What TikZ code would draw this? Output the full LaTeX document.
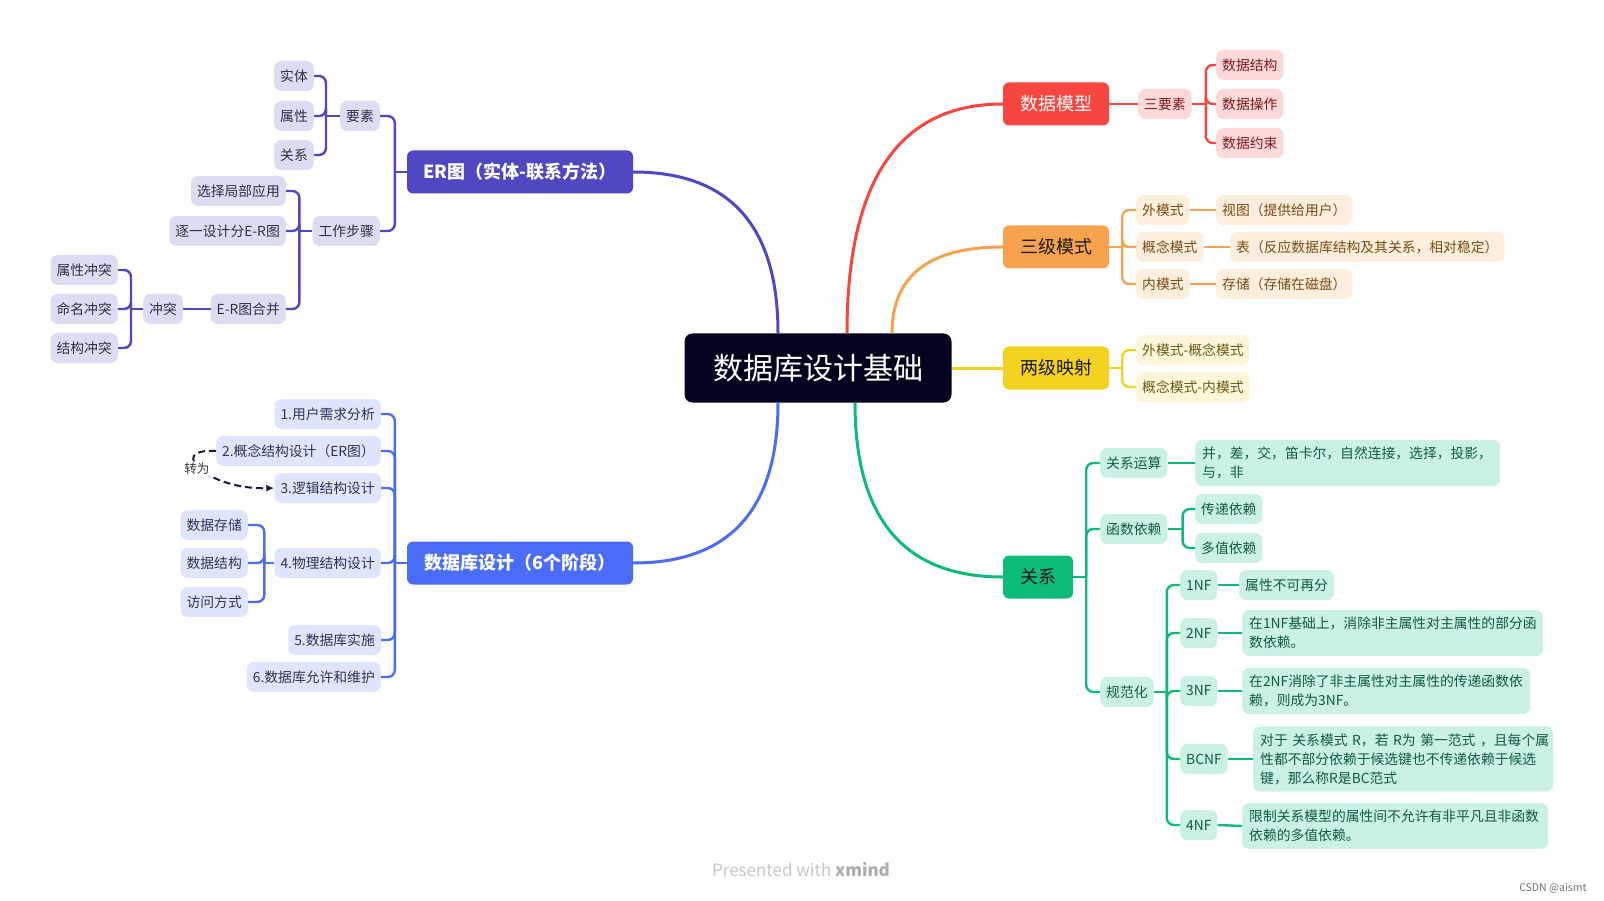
\documentclass[tikz,border=0pt]{standalone}
\usepackage{fontspec}
\setmainfont{Noto Sans CJK SC}
\usetikzlibrary{arrows.meta,calc}
\definecolor{cDark}{HTML}{03031F}
\definecolor{erLine}{HTML}{4F48C2}
\definecolor{erFill}{HTML}{DCDCF3}
\definecolor{erText}{HTML}{2E2E4F}
\definecolor{dbLine}{HTML}{4A6CF7}
\definecolor{dbFill}{HTML}{DFE5FE}
\definecolor{dbText}{HTML}{2E3552}
\definecolor{rdLine}{HTML}{F7453F}
\definecolor{rdFill}{HTML}{FDDAD9}
\definecolor{rdText}{HTML}{7A1A1A}
\definecolor{orLine}{HTML}{F6A24E}
\definecolor{orFill}{HTML}{FDEEDE}
\definecolor{orText}{HTML}{7A4A12}
\definecolor{ylLine}{HTML}{F2D321}
\definecolor{ylFill}{HTML}{FDF6DA}
\definecolor{ylText}{HTML}{6B5A14}
\definecolor{gnLine}{HTML}{0DBB79}
\definecolor{gnFill}{HTML}{CBF1E3}
\definecolor{gnText}{HTML}{0F5C3F}
\tikzset{
  subbox/.style={rounded corners=7pt, inner xsep=6pt, inner ysep=0pt, minimum height=30pt,
    font=\fontsize{13.8pt}{19pt}\selectfont},
  erS/.style={subbox, fill=erFill, text=erText, anchor=east},
  dbS/.style={subbox, fill=dbFill, text=dbText, anchor=east},
  rdS/.style={subbox, fill=rdFill, text=rdText, anchor=west},
  orS/.style={subbox, fill=orFill, text=orText, anchor=west},
  ylS/.style={subbox, fill=ylFill, text=ylText, anchor=west},
  gnS/.style={subbox, fill=gnFill, text=gnText, anchor=west},
  multi/.style={inner xsep=7pt, inner ysep=7pt, align=left},
  branch/.style={rounded corners=6pt, minimum height=43pt, inner xsep=4pt,
    font=\fontsize{18pt}{22pt}\selectfont},
  link/.style={line width=2.4pt},
  mainlink/.style={line width=3pt},
  fork/.style={line width=2.4pt, rounded corners=7pt},
}
\begin{document}
\begin{tikzpicture}[x=1pt,y=-1pt]
\useasboundingbox[fill=white] (0,0) rectangle (1604,901);

% central
\node[fill=cDark, text=white, rounded corners=8pt, minimum width=267pt, minimum height=69pt,
  font=\fontsize{30pt}{34pt}\selectfont] (c) at (818,368) {数据库设计基础};

% branches
\node[branch, fill=erLine, text=white, minimum width=226pt, font=\fontsize{18pt}{22pt}\selectfont\bfseries] (er) at (520,172) {ER图（实体-联系方法）};
\node[branch, fill=dbLine, text=white, minimum width=226pt, font=\fontsize{18pt}{22pt}\selectfont\bfseries] (db) at (520,563) {数据库设计（6个阶段）};
\node[branch, fill=rdLine, text=white, minimum width=106pt] (dm) at (1056,104) {数据模型};
\node[branch, fill=orLine, text=black!90, minimum width=106pt] (sj) at (1056,247) {三级模式};
\node[branch, fill=ylLine, text=black!90, minimum width=106pt] (lj) at (1056,368) {两级映射};
\node[branch, fill=gnLine, text=black!90, minimum width=70pt] (gx) at (1038,577) {关系};

% main curves (quadratic, converted to cubic)
\coordinate (sER) at ($(c.north)+(-40,0)$);
\coordinate (sDM) at ($(c.north)+(29,0)$);
\coordinate (sSJ) at ($(c.north)+(74,0)$);
\coordinate (sDB) at ($(c.south)+(-40,0)$);
\coordinate (sGX) at ($(c.south)+(37,0)$);
\coordinate (qER) at (sER |- er.east);
\coordinate (qDM) at (sDM |- dm.west);
\coordinate (qSJ) at (sSJ |- sj.west);
\coordinate (qDB) at (sDB |- db.east);
\coordinate (qGX) at (sGX |- gx.west);
\draw[mainlink, erLine] (sER) .. controls ($(sER)!0.667!(qER)$) and ($(er.east)!0.667!(qER)$) .. (er.east);
\draw[mainlink, rdLine] (sDM) .. controls ($(sDM)!0.667!(qDM)$) and ($(dm.west)!0.667!(qDM)$) .. (dm.west);
\draw[mainlink, orLine] (sSJ) .. controls ($(sSJ)!0.667!(qSJ)$) and ($(sj.west)!0.667!(qSJ)$) .. (sj.west);
\draw[mainlink, dbLine] (sDB) .. controls ($(sDB)!0.667!(qDB)$) and ($(db.east)!0.667!(qDB)$) .. (db.east);
\draw[mainlink, gnLine] (sGX) .. controls ($(sGX)!0.667!(qGX)$) and ($(gx.west)!0.667!(qGX)$) .. (gx.west);
\draw[mainlink, ylLine] (c.east) -- (lj.west);

% ===== ER branch =====
\node[erS] (ys) at (380,116) {要素};
\node[erS] (gz) at (380,231) {工作步骤};
\node[erS] (st) at (314,76) {实体};
\node[erS] (sx) at (314,116) {属性};
\node[erS] (gxe) at (314,155) {关系};
\node[erS] (xz) at (286,191) {选择局部应用};
\node[erS] (zy) at (286,231) {逐一设计分E-R图};
\node[erS] (hb) at (286,309) {E-R图合并};
\node[erS] (ct) at (183,309) {冲突};
\node[erS] (sxct) at (118,270) {属性冲突};
\node[erS] (mmct) at (118,309) {命名冲突};
\node[erS] (jgct) at (118,348) {结构冲突};

\draw[link, erLine] (er.west) -- ++(-12,0) coordinate (erJ);
\draw[fork, erLine] (erJ) |- (ys.east);
\draw[fork, erLine] (erJ) |- (gz.east);
\draw[link, erLine] (ys.west) -- ++(-14,0) coordinate (ysJ);
\draw[fork, erLine] (ysJ) |- (st.east);
\draw[fork, erLine] (ysJ) |- (sx.east);
\draw[fork, erLine] (ysJ) |- (gxe.east);
\draw[link, erLine] (gz.west) -- ++(-13,0) coordinate (gzJ);
\draw[fork, erLine] (gzJ) |- (xz.east);
\draw[fork, erLine] (gzJ) |- (zy.east);
\draw[fork, erLine] (gzJ) |- (hb.east);
\draw[link, erLine] (hb.west) -- (ct.east);
\draw[link, erLine] (ct.west) -- ++(-12,0) coordinate (ctJ);
\draw[fork, erLine] (ctJ) |- (sxct.east);
\draw[fork, erLine] (ctJ) |- (mmct.east);
\draw[fork, erLine] (ctJ) |- (jgct.east);

% ===== DB branch =====
\node[dbS] (d1) at (381,414) {1.用户需求分析};
\node[dbS] (d2) at (381,451) {2.概念结构设计（ER图）};
\node[dbS] (d3) at (381,488) {3.逻辑结构设计};
\node[dbS] (d4) at (381,563) {4.物理结构设计};
\node[dbS] (d5) at (381,640) {5.数据库实施};
\node[dbS] (d6) at (381,677) {6.数据库允许和维护};
\node[dbS] (p1) at (248,525) {数据存储};
\node[dbS] (p2) at (248,563) {数据结构};
\node[dbS] (p3) at (248,602) {访问方式};

\draw[link, dbLine] (db.west) -- ++(-12,0) coordinate (dbJ);
\foreach \n in {d1,d2,d3,d4,d5,d6} \draw[fork, dbLine] (dbJ) |- (\n.east);
\draw[link, dbLine] (d4.west) -- ++(-10,0) coordinate (d4J);
\foreach \n in {p1,p2,p3} \draw[fork, dbLine] (d4J) |- (\n.east);

\draw[line width=2pt, color=cDark!90, dash pattern=on 7pt off 4pt, -{Latex[length=8pt,width=7pt]}]
  (d2.west) .. controls +(-51,-3) and +(-67,2) ..
  node[pos=0.5, fill=white, inner sep=1pt, text=black!80, font=\fontsize{12.5pt}{14pt}\selectfont, xshift=-4pt] {转为}
  (d3.west);

% ===== 数据模型 =====
\node[rdS] (sys) at (1138,104) {三要素};
\node[rdS] (r1) at (1216,65) {数据结构};
\node[rdS] (r2) at (1216,104) {数据操作};
\node[rdS] (r3) at (1216,143) {数据约束};
\draw[link, rdLine] (dm.east) -- (sys.west);
\draw[link, rdLine] (sys.east) -- ++(14,0) coordinate (sysJ);
\foreach \n in {r1,r2,r3} \draw[fork, rdLine] (sysJ) |- (\n.west);

% ===== 三级模式 =====
\node[orS] (o1) at (1136,210) {外模式};
\node[orS] (o2) at (1136,247) {概念模式};
\node[orS] (o3) at (1136,284) {内模式};
\node[orS] (o1a) at (1216,210) {视图（提供给用户）};
\node[orS] (o2a) at (1230,247) {表（反应数据库结构及其关系，相对稳定）};
\node[orS] (o3a) at (1216,284) {存储（存储在磁盘）};
\draw[link, orLine] (sj.east) -- ++(13,0) coordinate (sjJ);
\foreach \n in {o1,o2,o3} \draw[fork, orLine] (sjJ) |- (\n.west);
\draw[link, orLine] (o1.east) -- (o1a.west);
\draw[link, orLine] (o2.east) -- (o2a.west);
\draw[link, orLine] (o3.east) -- (o3a.west);

% ===== 两级映射 =====
\node[ylS] (y1) at (1136,350) {外模式-概念模式};
\node[ylS] (y2) at (1136,387) {概念模式-内模式};
\draw[link, ylLine] (lj.east) -- ++(13,0) coordinate (ljJ);
\foreach \n in {y1,y2} \draw[fork, ylLine] (ljJ) |- (\n.west);

% ===== 关系 =====
\node[gnS] (g1) at (1100,463) {关系运算};
\node[gnS] (g2) at (1100,529) {函数依赖};
\node[gnS] (g3) at (1100,692) {规范化};
\node[gnS, multi, text width=291pt] (g1a) at (1195,463) {并，差，交，笛卡尔，自然连接，选择，投影，\\与，非};
\node[gnS] (g2a) at (1195,509) {传递依赖};
\node[gnS] (g2b) at (1195,548) {多值依赖};
\node[gnS] (n1) at (1180,585) {1NF};
\node[gnS] (n2) at (1180,633) {2NF};
\node[gnS] (n3) at (1180,691) {3NF};
\node[gnS] (n4) at (1180,759) {BCNF};
\node[gnS] (n5) at (1180,825) {4NF};
\node[gnS] (n1a) at (1239,585) {属性不可再分};
\node[gnS, multi, text width=287pt] (n2a) at (1242,633) {在1NF基础上，消除非主属性对主属性的部分函\\数依赖。};
\node[gnS, multi, text width=274pt] (n3a) at (1242,691) {在2NF消除了非主属性对主属性的传递函数依\\赖，则成为3NF。};
\node[gnS, multi, text width=286pt] (n4a) at (1253,759) {\mbox{对于 关系模式 R，若 R为 第一范式 ，且每个属}\\性都不部分依赖于候选键也不传递依赖于候选\\键，那么称R是BC范式};
\node[gnS, multi, text width=292pt] (n5a) at (1242,826) {限制关系模型的属性间不允许有非平凡且非函数\\依赖的多值依赖。};

\draw[link, gnLine] (gx.east) -- ++(13,0) coordinate (gxJ);
\foreach \n in {g1,g2,g3} \draw[fork, gnLine] (gxJ) |- (\n.west);
\draw[link, gnLine] (g1.east) -- (g1a.west);
\draw[link, gnLine] (g2.east) -- ++(15,0) coordinate (g2J);
\foreach \n in {g2a,g2b} \draw[fork, gnLine] (g2J) |- (\n.west);
\draw[link, gnLine] (g3.east) -- ++(13,0) coordinate (g3J);
\foreach \n in {n1,n2,n3,n4,n5} \draw[fork, gnLine] (g3J) |- (\n.west);
\draw[link, gnLine] (n1.east) -- (n1a.west);
\draw[link, gnLine] (n2.east) -- (n2a.west);
\draw[link, gnLine] (n3.east) -- (n3a.west);
\draw[link, gnLine] (n4.east) -- (n4a.west);
\draw[link, gnLine] (n5.east) -- (n5a.west);

% footer
\node[font=\fontsize{17pt}{20pt}\selectfont, text=black!22] (ft) at (801,870) {Presented with {\bfseries\color{black!32}xmind}};
\node[font=\fontsize{10.5pt}{12pt}\selectfont, text=black!55, anchor=east] (cs) at (1590,888) {CSDN @aismt};
\end{tikzpicture}
\end{document}
